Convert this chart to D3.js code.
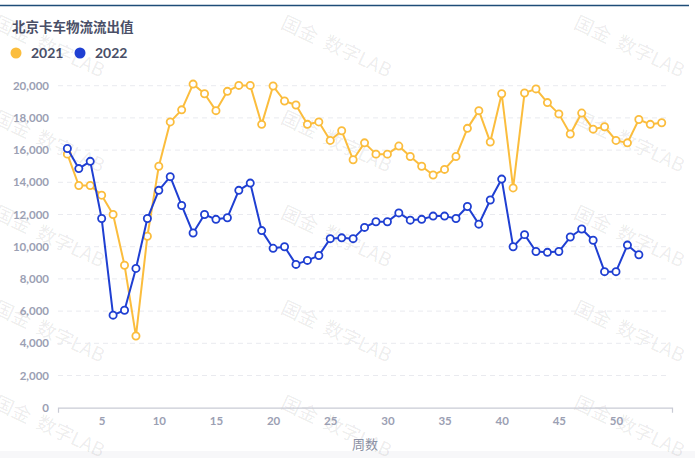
<!DOCTYPE html>
<html>
<head>
<meta charset="utf-8">
<script src="https://cdn.jsdelivr.net/npm/d3@7"></script>
<style>
  html, body { margin: 0; padding: 0; background: #fff; }
  svg { display: block; }
  .tick-label { font-family: Lato, "Noto Sans", sans-serif; font-weight: 700; fill: #9ba0b3; }
</style>
</head>
<body>
<svg id="chart" width="695" height="458"></svg>
<script>
// week numbers on the x axis
const weeks2021 = [2, 3, 4, 5, 6, 7, 8, 9, 10, 11, 12, 13, 14, 15, 16, 17, 18, 19, 20, 21,
  22, 23, 24, 25, 26, 27, 28, 29, 30, 31, 32, 33, 34, 35, 36, 37, 38, 39, 40, 41,
  42, 43, 44, 45, 46, 47, 48, 49, 50, 51, 52, 53, 54];
const weeks2022 = weeks2021.slice(0, 51);

const values2021 = [15750, 13800, 13800, 13200, 12000, 8850, 4450, 10650, 15000, 17750,
  18500, 20100, 19500, 18450, 19650, 20020, 20020, 17600, 19980, 19050,
  18800, 17600, 17750, 16600, 17200, 15400, 16450, 15750, 15750, 16250,
  15600, 15000, 14450, 14800, 15600, 17350, 18450, 16500, 19500, 13650,
  19550, 19800, 18950, 18250, 17000, 18300, 17300, 17450, 16600, 16450,
  17900, 17600, 17700];
const values2022 = [16100, 14850, 15300, 11750, 5750, 6050, 8650, 11750, 13500, 14350,
  12560, 10850, 12000, 11700, 11800, 13500, 13950, 11000, 9900, 10000,
  8900, 9150, 9450, 10500, 10550, 10500, 11200, 11550, 11550, 12100,
  11650, 11700, 11900, 11900, 11750, 12500, 11400, 12900, 14200, 10000,
  10750, 9700, 9650, 9700, 10600, 11100, 10400, 8450, 8450, 10100, 9500];

const xTicks = [5, 10, 15, 20, 25, 30, 35, 40, 45, 50];
const yTicks = [0, 2000, 4000, 6000, 8000, 10000, 12000, 14000, 16000, 18000, 20000];

const series = [
  { name: '2021', color: '#fbbd3d', weeks: weeks2021, values: values2021 },
  { name: '2022', color: '#1f3fd2', weeks: weeks2022, values: values2022 }
];

const svg = d3.select('#chart');
const W = 695, H = 458;
const plot = { left: 58, right: 672, top: 85.7, bottom: 407.7 };

const x = d3.scaleLinear().domain([1.18, 54.9]).range([plot.left, plot.right]);
const y = d3.scaleLinear().domain([0, 20000]).range([plot.bottom, plot.top]);

// frame decorations
svg.append('rect').attr('x', 0).attr('y', 451).attr('width', W).attr('height', 7).attr('fill', '#f7f7f9');
svg.append('line')
  .attr('x1', 0).attr('x2', 689).attr('y1', 5.5).attr('y2', 5.5)
  .attr('stroke', '#1e4d78').attr('stroke-width', 1.6);

// watermark tiles
const wm = svg.append('g').attr('pointer-events', 'none');
[0, 287, 580].forEach(wx => {
  [12, 107, 202, 297, 392].forEach(wy => {
    wm.append('text')
      .attr('transform', `translate(${wx},${wy}) rotate(25)`)
      .attr('dy', '0.9em')
      .attr('font-family', '"Noto Sans CJK SC", "Noto Sans", sans-serif')
      .attr('font-size', 19)
      .attr('fill', '#000').attr('fill-opacity', 0.085)
      .attr('xml:space', 'preserve')
      .text('国金  数字LAB');
  });
});

// grid lines
svg.append('g')
  .selectAll('line')
  .data(yTicks.filter(d => d > 0))
  .join('line')
  .attr('x1', plot.left).attr('x2', plot.right - 2)
  .attr('y1', d => y(d)).attr('y2', d => y(d))
  .attr('stroke', '#e9eaef').attr('stroke-dasharray', '5,4');

// y axis labels
svg.append('g')
  .selectAll('text')
  .data(yTicks)
  .join('text')
  .attr('class', 'tick-label')
  .attr('x', 49).attr('y', d => y(d))
  .attr('dy', '0.35em')
  .attr('text-anchor', 'end')
  .attr('font-size', 11.5)
  .text(d => d3.format(',')(d));

// x axis
const xAxis = svg.append('g')
  .attr('transform', `translate(0,${plot.bottom})`)
  .call(d3.axisBottom(x).tickValues(xTicks).tickSize(0).tickSizeOuter(5).tickPadding(13));
xAxis.select('.domain').attr('stroke', '#c9cbd5').attr('stroke-width', 1.2);
xAxis.selectAll('.tick text')
  .attr('class', 'tick-label')
  .attr('font-size', 11.5)
  .attr('dy', '0.35em');

svg.append('text')
  .attr('x', (plot.left + plot.right) / 2).attr('y', 449)
  .attr('text-anchor', 'middle')
  .attr('font-family', '"Noto Sans CJK SC", sans-serif')
  .attr('font-size', 13)
  .attr('fill', '#8b90a3')
  .text('周数');

// lines and markers
const line = d3.line().x(d => x(d[0])).y(d => y(d[1]));

series.forEach(s => {
  const pts = s.weeks.map((w, i) => [w, s.values[i]]);
  const g = svg.append('g');
  g.append('path')
    .attr('d', line(pts))
    .attr('fill', 'none')
    .attr('stroke', s.color)
    .attr('stroke-width', 2)
    .attr('stroke-linejoin', 'round');
  g.selectAll('circle')
    .data(pts)
    .join('circle')
    .attr('cx', d => x(d[0])).attr('cy', d => y(d[1]))
    .attr('r', 3.6)
    .attr('fill', '#fff')
    .attr('stroke', s.color)
    .attr('stroke-width', 1.8);
});

// title and legend
svg.append('text')
  .attr('x', 12).attr('y', 32)
  .attr('font-family', '"Noto Sans CJK SC", sans-serif')
  .attr('font-size', 13.5).attr('font-weight', 700)
  .attr('fill', '#4a4f67')
  .text('北京卡车物流流出值');

const legend = svg.append('g');
const legendX = [16, 80];
series.forEach((s, i) => {
  legend.append('circle')
    .attr('cx', legendX[i]).attr('cy', 53).attr('r', 5.5)
    .attr('fill', s.color);
  legend.append('text')
    .attr('x', legendX[i] + 15).attr('y', 53)
    .attr('dy', '0.36em')
    .attr('font-family', 'Lato, sans-serif')
    .attr('font-size', 14).attr('font-weight', 700)
    .attr('fill', '#4a4f67')
    .text(s.name);
});
</script>
</body>
</html>
